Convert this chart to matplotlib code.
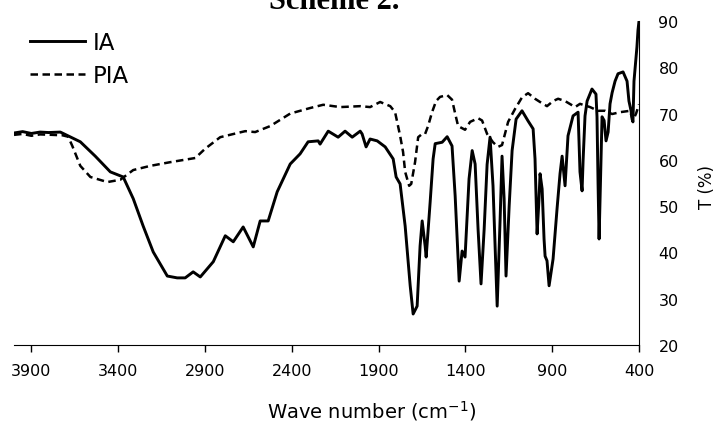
import matplotlib
matplotlib.use("Agg")
import matplotlib.pyplot as plt

# IR spectra (wave number in cm-1, transmittance in %)
ia_wn = [4000, 3950, 3900, 3850, 3800, 3733, 3618, 3532, 3445, 3371, 3313, 3256,
         3198, 3117, 3060, 3014, 2968, 2927, 2852, 2783, 2737, 2680, 2622, 2582,
         2536, 2484, 2409, 2352, 2306, 2248, 2237, 2190, 2133, 2093, 2052, 2006,
         1995, 1972, 1949, 1908, 1862, 1816, 1799, 1776, 1747, 1718, 1701, 1678,
         1661, 1649, 1632, 1626, 1603, 1586, 1574, 1534, 1505, 1477, 1459, 1436,
         1419, 1402, 1379, 1361, 1344, 1327, 1310, 1292, 1275, 1258, 1241, 1217,
         1200, 1189, 1177, 1166, 1148, 1131, 1108, 1074, 1039, 1010, 999, 987,
         976, 970, 958, 947, 941, 930, 918, 895, 872, 855, 843, 826, 809, 780,
         751, 740, 728, 722, 711, 699, 671, 648, 642, 636, 630, 619, 613, 601,
         590, 578, 567, 555, 538, 521, 492, 469, 458, 446, 440, 435, 429, 417,
         412, 406, 400]
ia_t = [65.8, 66.1, 65.7, 66.0, 65.9, 66.0, 63.9, 60.8, 57.4, 56.3, 51.6, 45.7,
        40.1, 34.9, 34.5, 34.5, 35.8, 34.7, 38.0, 43.6, 42.3, 45.5, 41.2, 46.8,
        46.8, 53.1, 59.1, 61.3, 63.9, 64.1, 63.4, 66.2, 64.9, 66.2, 64.9, 66.2,
        65.6, 62.8, 64.5, 64.1, 62.8, 60.2, 56.3, 54.8, 45.7, 32.8, 26.7, 28.4,
        41.4, 46.8, 41.4, 39.0, 50.9, 60.2, 63.5, 63.8, 65.0, 63.0, 52.2, 33.8,
        40.3, 39.0, 55.9, 62.0, 59.1, 45.0, 33.2, 45.0, 59.0, 64.9, 54.4, 28.4,
        47.2, 60.8, 51.6, 34.9, 50.0, 62.0, 68.8, 70.6, 68.4, 66.7, 60.2, 44.0,
        51.6, 57.0, 53.7, 42.9, 39.2, 38.2, 32.8, 38.6, 49.5, 57.0, 60.8, 54.4, 65.2, 69.5,
        70.3, 57.4, 53.3, 60.0, 69.5, 72.7, 75.3, 74.2, 69.3, 55.0, 42.9, 60.0, 69.3, 68.5,
        64.1, 66.0, 72.1, 74.5, 77.0, 78.6, 79.0, 77.0, 72.7, 70.6, 68.8, 68.2, 77.0, 82.2,
        84.4, 88.0, 90.0]

pia_wn = [4000, 3950, 3900, 3850, 3780, 3720, 3688, 3664, 3618, 3560, 3462, 3388,
          3313, 3215, 3100, 2956, 2899, 2812, 2668, 2611, 2524, 2409, 2294, 2219,
          2121, 2006, 1949, 1891, 1833, 1805, 1776, 1759, 1747, 1724, 1712, 1690,
          1672, 1649, 1632, 1615, 1592, 1569, 1546, 1505, 1477, 1459, 1442, 1402,
          1373, 1327, 1304, 1275, 1241, 1212, 1189, 1154, 1114, 1074, 1039, 999,
          970, 930, 895, 866, 826, 768, 740, 682, 636, 596, 555, 509, 452, 435,
          417, 400]
pia_t = [65.4, 65.6, 65.2, 65.5, 65.4, 65.3, 65.0, 63.0, 58.7, 56.3, 55.2, 55.7,
         57.8, 58.7, 59.5, 60.4, 62.4, 64.9, 66.2, 66.0, 67.3, 70.0, 71.2, 71.9,
         71.4, 71.6, 71.4, 72.5, 71.6, 70.3, 65.2, 61.7, 57.4, 54.4, 54.8, 59.5,
         64.9, 65.6, 65.6, 67.3, 70.3, 72.7, 73.6, 74.0, 73.0, 70.0, 67.3, 66.5,
         68.2, 69.0, 68.5, 65.6, 63.8, 62.8, 63.2, 68.2, 71.0, 73.5, 74.4, 73.2,
         72.5, 71.6, 72.7, 73.2, 72.7, 71.4, 72.1, 71.4, 70.6, 70.6, 69.9, 70.3, 70.6, 68.5,
         70.0, 72.0]

x_ticks = [3900, 3400, 2900, 2400, 1900, 1400, 900, 400]
y_ticks = [20, 30, 40, 50, 60, 70, 80, 90]

plt.rcParams['font.family'] = 'DejaVu Sans'

fig = plt.figure(figsize=(7.21, 4.27), dpi=100)
ax = fig.add_axes([0.0194, 0.1897, 0.8669, 0.7588])

ax.plot(ia_wn, ia_t, color='black', lw=2.1, label='IA')
ax.plot(pia_wn, pia_t, color='black', lw=1.8, dashes=(3, 1.8), label='PIA')

ax.set_xlim(4000, 400)
ax.set_ylim(20, 90)
ax.set_xticks(x_ticks)
ax.set_yticks(y_ticks)

ax.spines['top'].set_visible(False)
ax.spines['left'].set_visible(False)
ax.yaxis.tick_right()
ax.tick_params(axis='y', length=0, pad=14, labelsize=11.5)
ax.tick_params(axis='x', length=5, width=1, pad=8, labelsize=11.5)

ax.set_xlabel('Wave number (cm$^{-1}$)', fontsize=14)
ax.xaxis.set_label_coords(0.573, -0.165)
ax.yaxis.set_label_position('right')
ax.set_ylabel('T (%)', fontsize=12)
ax.yaxis.set_label_coords(1.095, 0.49)

ax.legend(loc='upper left', bbox_to_anchor=(0.0256, 0.97), frameon=False,
          fontsize=16.5, handlelength=2.4, handletextpad=0.35, labelspacing=0.45,
          borderpad=0, borderaxespad=0)

# title sits partly above the top edge, as in the reference
fig.text(0.464, 0.979, 'Scheme 2.', family='Liberation Serif', weight='bold',
         fontsize=22, ha='center', va='baseline')

fig.savefig('out.png', dpi=100)
